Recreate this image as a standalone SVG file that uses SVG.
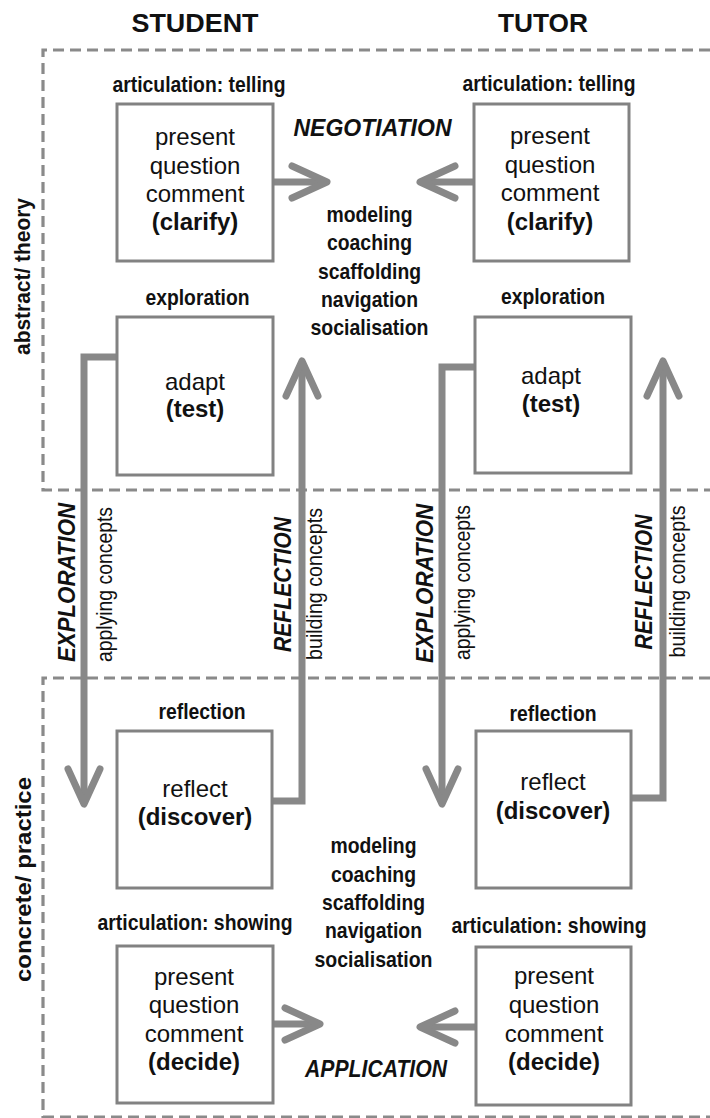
<svg xmlns="http://www.w3.org/2000/svg" width="710" height="1118" viewBox="0 0 710 1118">
  <style>
    text { font-family: "Liberation Sans", Arial, sans-serif; fill: #111; }
    .title { font-size: 25px; font-weight: bold; text-anchor: middle; }
    .label { font-size: 21.5px; font-weight: bold; text-anchor: middle; }
    .side { font-size: 22px; font-weight: bold; text-anchor: middle; }
    .body { font-size: 24px; text-anchor: middle; }
    .body .b { font-weight: bold; }
    .phase { font-size: 23px; font-weight: bold; font-style: italic; text-anchor: middle; }
    .note { font-size: 21.5px; text-anchor: middle; }
    .box { fill: #fff; stroke: #828282; stroke-width: 3; }
    .frame { fill: none; stroke: #8a8a8a; stroke-width: 3.2; stroke-dasharray: 11 6; }
    .conn { fill: none; stroke: #888; stroke-width: 7; stroke-linejoin: miter; }
  </style>
  <defs>
    <marker id="chevron" markerUnits="userSpaceOnUse" viewBox="-45 -25 55 50" refX="0" refY="0" markerWidth="55" markerHeight="50" orient="auto" overflow="visible">
      <path d="M-35,-16 L0,0 L-35,16" fill="none" stroke="#888" stroke-width="7" stroke-linecap="round" stroke-linejoin="round"/>
    </marker>
  </defs>

  <rect width="710" height="1118" fill="#fff"/>

  <!-- level frames -->
  <g id="frames">
    <path class="frame" d="M710,50 H43 V490 H710"/>
    <path class="frame" d="M710,678 H43 V1118"/>
    <path class="frame" d="M43,1117 H710"/>
  </g>

  <!-- column and level headings -->
  <g id="headings">
    <text class="title" x="195" y="32" textLength="127" lengthAdjust="spacingAndGlyphs">STUDENT</text>
    <text class="title" x="543" y="32" textLength="90" lengthAdjust="spacingAndGlyphs">TUTOR</text>
    <text class="side" transform="translate(30,276.5) rotate(-90)" textLength="157" lengthAdjust="spacingAndGlyphs">abstract/ theory</text>
    <text class="side" transform="translate(31,879.5) rotate(-90)" font-size="24" textLength="205" lengthAdjust="spacingAndGlyphs">concrete/ practice</text>
  </g>

  <!-- connectors -->
  <g id="connectors">
    <path class="conn" d="M273,182 H327" marker-end="url(#chevron)"/>
    <path class="conn" d="M474,182 H420" marker-end="url(#chevron)"/>
    <path class="conn" d="M117,357 H84 V804" marker-end="url(#chevron)"/>
    <path class="conn" d="M272,801 H302 V361" marker-end="url(#chevron)"/>
    <path class="conn" d="M475,367 H442 V804" marker-end="url(#chevron)"/>
    <path class="conn" d="M631,798 H663 V361" marker-end="url(#chevron)"/>
    <path class="conn" d="M273,1024 H320" marker-end="url(#chevron)"/>
    <path class="conn" d="M476,1027 H420" marker-end="url(#chevron)"/>
  </g>

  <!-- phase labels along the connectors -->
  <g id="phase-labels">
    <text class="phase" x="372.5" y="136" font-size="20.5" textLength="158" lengthAdjust="spacingAndGlyphs">NEGOTIATION</text>
    <text class="phase" x="376" y="1077" font-size="20.5" textLength="142" lengthAdjust="spacingAndGlyphs">APPLICATION</text>
    <text class="phase" transform="translate(74.5,582.5) rotate(-90)" textLength="159" lengthAdjust="spacingAndGlyphs">EXPLORATION</text>
    <text class="note" transform="translate(112,584.5) rotate(-90)" textLength="155" lengthAdjust="spacingAndGlyphs">applying concepts</text>
    <text class="phase" transform="translate(290.5,584.5) rotate(-90)" textLength="135" lengthAdjust="spacingAndGlyphs">REFLECTION</text>
    <text class="note" transform="translate(322,584) rotate(-90)" textLength="152" lengthAdjust="spacingAndGlyphs">building concepts</text>
    <text class="phase" transform="translate(433,583.5) rotate(-90)" textLength="159" lengthAdjust="spacingAndGlyphs">EXPLORATION</text>
    <text class="note" transform="translate(470,582.5) rotate(-90)" textLength="155" lengthAdjust="spacingAndGlyphs">applying concepts</text>
    <text class="phase" transform="translate(652,582) rotate(-90)" textLength="135" lengthAdjust="spacingAndGlyphs">REFLECTION</text>
    <text class="note" transform="translate(685,581.5) rotate(-90)" textLength="152" lengthAdjust="spacingAndGlyphs">building concepts</text>
  </g>

  <!-- cognitive apprenticeship methods -->
  <g id="methods-theory">
    <text class="label" x="369.5" y="222" textLength="86" lengthAdjust="spacingAndGlyphs">modeling</text>
    <text class="label" x="369.5" y="250" textLength="85" lengthAdjust="spacingAndGlyphs">coaching</text>
    <text class="label" x="369.5" y="278.5" textLength="103" lengthAdjust="spacingAndGlyphs">scaffolding</text>
    <text class="label" x="369.5" y="307" textLength="97" lengthAdjust="spacingAndGlyphs">navigation</text>
    <text class="label" x="369.5" y="335" textLength="118" lengthAdjust="spacingAndGlyphs">socialisation</text>
  </g>
  <g id="methods-practice">
    <text class="label" x="373.5" y="853" textLength="86" lengthAdjust="spacingAndGlyphs">modeling</text>
    <text class="label" x="373.5" y="881.5" textLength="85" lengthAdjust="spacingAndGlyphs">coaching</text>
    <text class="label" x="373.5" y="909.5" textLength="103" lengthAdjust="spacingAndGlyphs">scaffolding</text>
    <text class="label" x="373.5" y="938" textLength="97" lengthAdjust="spacingAndGlyphs">navigation</text>
    <text class="label" x="373.5" y="966.5" textLength="118" lengthAdjust="spacingAndGlyphs">socialisation</text>
  </g>

  <!-- student nodes -->
  <g id="student-telling">
    <text class="label" x="199" y="91.5" textLength="173" lengthAdjust="spacingAndGlyphs">articulation: telling</text>
    <rect class="box" x="117" y="104" width="156" height="157"/>
    <text class="body"><tspan x="195" y="145">present</tspan><tspan x="195" y="173.5">question</tspan><tspan x="195" y="202">comment</tspan><tspan class="b" x="195" y="230">(clarify)</tspan></text>
  </g>
  <g id="student-exploration">
    <text class="label" x="197.5" y="305" textLength="104" lengthAdjust="spacingAndGlyphs">exploration</text>
    <rect class="box" x="117" y="317" width="156" height="158"/>
    <text class="body"><tspan x="195" y="390">adapt</tspan><tspan class="b" x="195" y="417">(test)</tspan></text>
  </g>
  <g id="student-reflection">
    <text class="label" x="202" y="719" textLength="87" lengthAdjust="spacingAndGlyphs">reflection</text>
    <rect class="box" x="117" y="731" width="155" height="157"/>
    <text class="body"><tspan x="195" y="797">reflect</tspan><tspan class="b" x="195" y="825">(discover)</tspan></text>
  </g>
  <g id="student-showing">
    <text class="label" x="195" y="930" textLength="195" lengthAdjust="spacingAndGlyphs">articulation: showing</text>
    <rect class="box" x="117" y="946" width="156" height="157"/>
    <text class="body"><tspan x="194" y="985">present</tspan><tspan x="194" y="1013">question</tspan><tspan x="194" y="1042">comment</tspan><tspan class="b" x="194" y="1070">(decide)</tspan></text>
  </g>

  <!-- tutor nodes -->
  <g id="tutor-telling">
    <text class="label" x="549" y="91" textLength="173" lengthAdjust="spacingAndGlyphs">articulation: telling</text>
    <rect class="box" x="474" y="104" width="155" height="157"/>
    <text class="body"><tspan x="550" y="144">present</tspan><tspan x="550" y="172.5">question</tspan><tspan x="550" y="201">comment</tspan><tspan class="b" x="550" y="229.5">(clarify)</tspan></text>
  </g>
  <g id="tutor-exploration">
    <text class="label" x="553" y="303.5" textLength="104" lengthAdjust="spacingAndGlyphs">exploration</text>
    <rect class="box" x="475" y="317" width="156" height="156"/>
    <text class="body"><tspan x="551" y="384">adapt</tspan><tspan class="b" x="551" y="411.5">(test)</tspan></text>
  </g>
  <g id="tutor-reflection">
    <text class="label" x="553" y="721" textLength="87" lengthAdjust="spacingAndGlyphs">reflection</text>
    <rect class="box" x="476" y="731" width="155" height="157"/>
    <text class="body"><tspan x="553" y="790">reflect</tspan><tspan class="b" x="553" y="818.5">(discover)</tspan></text>
  </g>
  <g id="tutor-showing">
    <text class="label" x="549" y="933" textLength="195" lengthAdjust="spacingAndGlyphs">articulation: showing</text>
    <rect class="box" x="476" y="947" width="155" height="158"/>
    <text class="body"><tspan x="554" y="984">present</tspan><tspan x="554" y="1013">question</tspan><tspan x="554" y="1042">comment</tspan><tspan class="b" x="554" y="1070">(decide)</tspan></text>
  </g>
</svg>
